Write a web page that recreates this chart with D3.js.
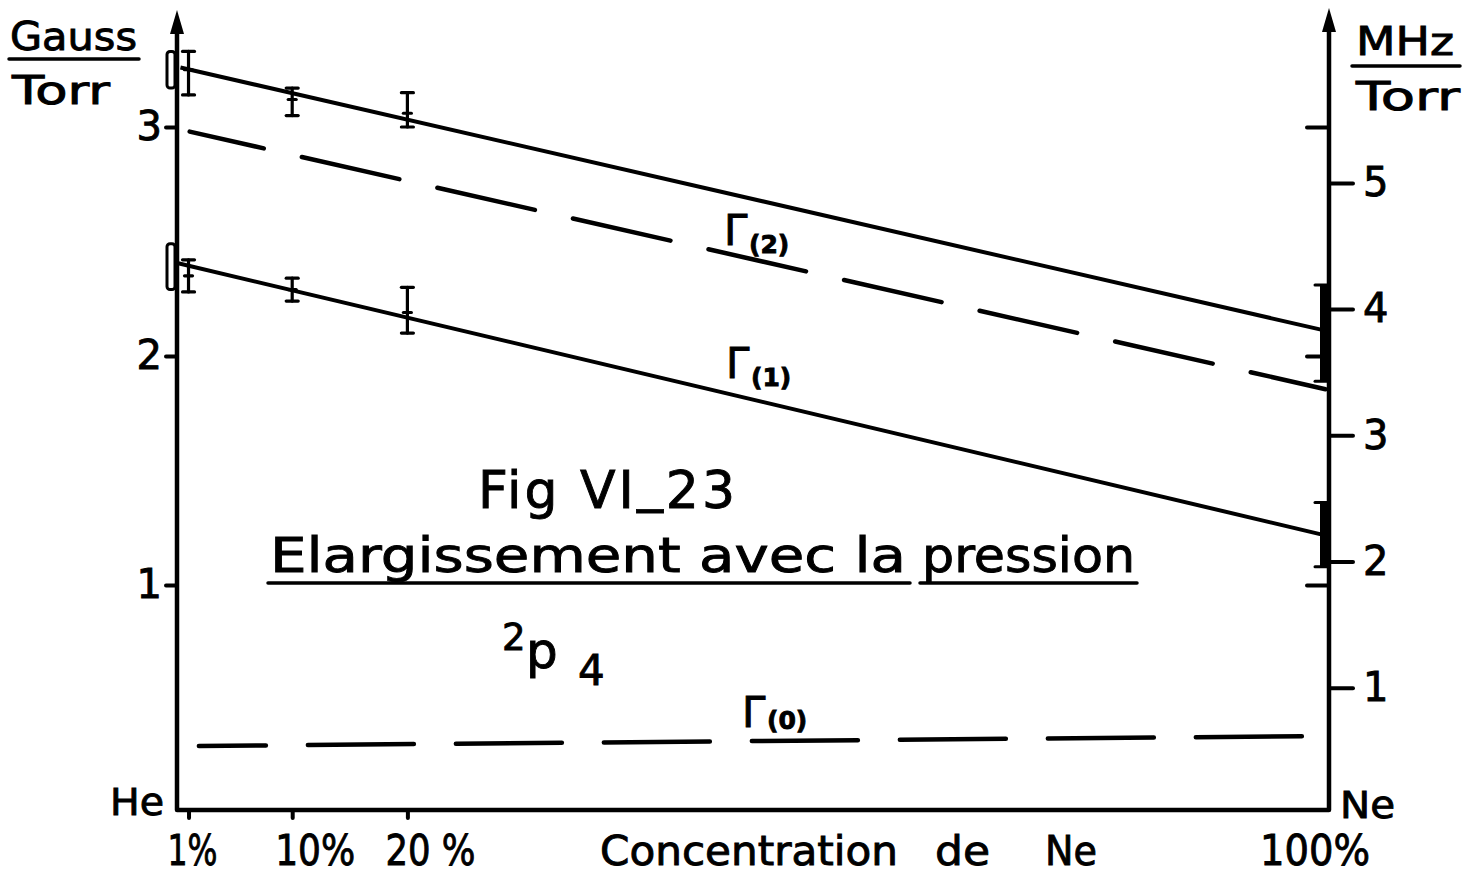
<!DOCTYPE html>
<html>
<head>
<meta charset="utf-8">
<script src="https://cdn.jsdelivr.net/npm/d3@7"></script>
<style>
  html, body { margin: 0; padding: 0; background: #fff; }
  svg { display: block; }
  text { font-family: "DejaVu Sans", sans-serif; fill: #000; stroke: #000; stroke-width: 0.9px; }
</style>
</head>
<body>
<svg id="chart" width="1464" height="876"></svg>
<script>
// Ne concentrations (%) at which the broadening was measured
const concentrations = [1, 10, 20];

// Γ(2) measurements, Gauss/Torr
const gamma2Mean = [3.25, 3.12, 3.06];
const gamma2Low  = [3.14, 3.05, 3.00];
const gamma2High = [3.33, 3.17, 3.15];

// Γ(1) measurements, Gauss/Torr
const gamma1Mean = [2.35, 2.29, 2.19];
const gamma1Low  = [2.28, 2.24, 2.10];
const gamma1High = [2.42, 2.34, 2.30];

// Ranges in pure He (0 %) and pure Ne (100 %)
const gamma2He = [3.17, 3.33];
const gamma1He = [2.29, 2.49];
const gamma2Ne = [1.89, 2.31];
const gamma1Ne = [1.08, 1.36];

// Straight lines: [concentration %, Gauss/Torr]
const gamma2Line = [[0.3, 3.26], [99.3, 2.115]];
const gamma1Line = [[0.1, 2.405], [99.4, 1.22]];
const gamma2Calc = [[1.1, 2.98], [99.7, 1.855]];
const gamma0Calc = [[1.9, 0.297], [98.2, 0.34]];

// Axis ticks
const xTicks = [1, 10, 20, 100];
const xTickLabels = ["1%", "10%", "20 %", "100%"];
const gaussTicks = [1, 2, 3];
const mhzTicks = [1, 2, 3, 4, 5];

const svg = d3.select("#chart");

const x = d3.scaleLinear().domain([0, 100]).range([177, 1329]);
const yG = d3.scaleLinear().domain([0, 3.5]).range([814, 12.5]);
const yM = d3.scaleLinear().domain([0, 6.35]).range([814, 12.5]);

const baseY = 810;
const ink = "#000";

// ---- frame and arrows
svg.append("path")
  .attr("d", `M${x(0)},30 L${x(0)},${baseY} L${x(100)},${baseY} L${x(100)},28`)
  .attr("fill", "none").attr("stroke", ink).attr("stroke-width", 4.5)
  .attr("stroke-linejoin", "round");

function arrow(cx, tip) {
  svg.append("path")
    .attr("d", `M${cx},${tip} L${cx - 7},${tip + 24} L${cx + 7},${tip + 24} Z`)
    .attr("fill", ink);
}
arrow(x(0), 10);
arrow(x(100), 8);

function styleAxis(g, size) {
  g.select(".domain").remove();
  g.selectAll(".tick line").attr("stroke", ink).attr("stroke-width", 4)
    .attr("stroke-linecap", "round");
  g.selectAll(".tick text").attr("font-size", size).attr("fill", ink)
    .style("font-family", '"DejaVu Sans", sans-serif');
}

// left Gauss axis
const gLeft = svg.append("g").attr("transform", `translate(${x(0)},0)`)
  .call(d3.axisLeft(yG).tickValues(gaussTicks).tickSize(11).tickPadding(4).tickFormat(d3.format("d")));
styleAxis(gLeft, 40);

// right MHz axis
const gRight = svg.append("g").attr("transform", `translate(${x(100)},0)`)
  .call(d3.axisRight(yM).tickValues(mhzTicks).tickSize(24).tickPadding(10).tickFormat(d3.format("d")));
styleAxis(gRight, 40);

// Gauss marks repeated on the right axis
const gRightG = svg.append("g").attr("transform", `translate(${x(100)},0)`)
  .call(d3.axisLeft(yG).tickValues(gaussTicks).tickSize(22).tickFormat(""));
styleAxis(gRightG, 40);

// bottom concentration axis
const gBottom = svg.append("g").attr("transform", `translate(0,${baseY})`)
  .call(d3.axisBottom(x).tickValues(xTicks.slice(0, 3)).tickSize(8).tickFormat(""));
styleAxis(gBottom, 40);

function txt(px, py, s, size, opts = {}) {
  const t = svg.append("text")
    .attr("x", px).attr("y", py)
    .attr("font-size", size)
    .attr("text-anchor", opts.anchor || "start")
    .text(s);
  if (opts.weight) t.attr("font-weight", opts.weight);
  if (opts.len) t.attr("textLength", opts.len).attr("lengthAdjust", opts.adjust || "spacingAndGlyphs");
  return t;
}
function rule(x1, x2, yy, w = 3.5) {
  svg.append("line").attr("x1", x1).attr("x2", x2).attr("y1", yy).attr("y2", yy)
    .attr("stroke", ink).attr("stroke-width", w).attr("stroke-linecap", "round");
}

// x tick labels
const labelDx = [-21, -17, -22, 41];
xTicks.forEach((v, i) => {
  txt(x(v) + labelDx[i], 865, xTickLabels[i], 42,
      { anchor: i === 3 ? "end" : "start", len: [50, 80, 90, 110][i] });
});
// axis title, words spaced apart as lettered
txt(600, 865, "Concentration", 41, { len: 298 });
txt(935, 865, "de", 41, { len: 55 });
txt(1045, 865, "Ne", 41, { len: 52 });
txt(110, 815, "He", 37, { len: 54 });
txt(1340, 818, "Ne", 38, { len: 55 });

// unit labels
txt(10, 50, "Gauss", 39, { len: 127 });
rule(9, 139, 59);
txt(12, 104, "Torr", 39, { len: 98 });
txt(1356, 55, "MHz", 39, { len: 98 });
rule(1352, 1460, 66);
txt(1356, 110, "Torr", 39, { len: 104 });

// ---- data lines
const line = d3.line().x(d => x(d[0])).y(d => yG(d[1]));

svg.append("path").datum(gamma2Line).attr("d", line)
  .attr("fill", "none").attr("stroke", ink).attr("stroke-width", 4);
svg.append("path").datum(gamma1Line).attr("d", line)
  .attr("fill", "none").attr("stroke", ink).attr("stroke-width", 4);
svg.append("path").datum(gamma2Calc).attr("d", line)
  .attr("fill", "none").attr("stroke", ink).attr("stroke-width", 4.5)
  .attr("stroke-linecap", "round")
  .attr("stroke-dasharray", "100 39").attr("stroke-dashoffset", 24);
svg.append("path").datum(gamma0Calc).attr("d", line)
  .attr("fill", "none").attr("stroke", ink).attr("stroke-width", 4.5)
  .attr("stroke-linecap", "round")
  .attr("stroke-dasharray", "106 42").attr("stroke-dashoffset", 39);

// ---- error bars
function errorBars(mean, low, high) {
  const g = svg.append("g").attr("stroke", ink).attr("stroke-width", 3.2)
    .attr("stroke-linecap", "round");
  concentrations.forEach((c, i) => {
    const cx = x(c);
    g.append("line").attr("x1", cx).attr("x2", cx).attr("y1", yG(low[i])).attr("y2", yG(high[i]));
    [low[i], high[i]].forEach(v =>
      g.append("line").attr("x1", cx - 6).attr("x2", cx + 6).attr("y1", yG(v)).attr("y2", yG(v)));
    g.append("line").attr("x1", cx - 4).attr("x2", cx + 4)
      .attr("y1", yG(mean[i])).attr("y2", yG(mean[i]));
  });
}
errorBars(gamma2Mean, gamma2Low, gamma2High);
errorBars(gamma1Mean, gamma1Low, gamma1High);

// pure He boxes
[gamma2He, gamma1He].forEach(r => {
  svg.append("rect")
    .attr("x", x(0) - 10).attr("width", 8)
    .attr("y", yG(r[1])).attr("height", yG(r[0]) - yG(r[1]))
    .attr("rx", 3).attr("fill", "#fff").attr("stroke", ink).attr("stroke-width", 3);
});

// pure Ne bars
[gamma2Ne, gamma1Ne].forEach(r => {
  svg.append("rect")
    .attr("x", x(100) - 9).attr("width", 9)
    .attr("y", yG(r[1])).attr("height", yG(r[0]) - yG(r[1]))
    .attr("fill", ink);
  [r[0], r[1]].forEach(v => rule(x(100) - 14, x(100), yG(v), 3));
});

// ---- curve labels
function gammaLabel(px, py, sub, dy) {
  txt(px, py, "Γ", 42);
  txt(px + 25, py + dy, sub, 25, { weight: "bold" });
}
gammaLabel(724, 245, "(2)", 8);
gammaLabel(726, 378, "(1)", 8);
gammaLabel(742, 727, "(0)", 2);

// ---- title block
const fig = svg.append("text").attr("x", 478).attr("y", 508).attr("font-size", 52)
  .attr("textLength", 257).attr("lengthAdjust", "spacing");
fig.append("tspan").text("Fig VI");
fig.append("tspan").attr("dy", -7).text("_");
fig.append("tspan").attr("dy", 7).text("23");

txt(270, 572, "Elargissement avec la", 48, { len: 636 });
txt(922, 572, "pression", 48, { len: 213 });
rule(268, 910, 583, 3.5);
rule(920, 1137, 583, 3.5);

txt(502, 650, "2", 37);
txt(526, 668, "p", 50);
txt(578, 685, "4", 42);
</script>
</body>
</html>
